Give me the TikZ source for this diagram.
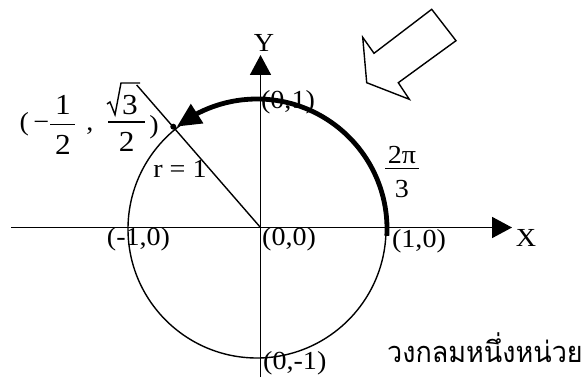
\documentclass[tikz,border=0pt]{standalone}
\usepackage{fontspec}
\setmainfont{Liberation Serif}[FakeStretch=1.08]
\newfontfamily\thaifont[Script=Thai,FakeStretch=0.93]{Loma}
\usetikzlibrary{arrows.meta,bending}
\begin{document}
\begin{tikzpicture}[x=1pt,y=-1pt,
  thinline/.style={line width=1.4pt},
  axis/.style={line width=1.8pt,-{Triangle[length=20pt,width=21pt]}},
  lbl/.style={inner sep=0pt,font=\fontsize{26}{28}\selectfont},
  frac/.style={inner sep=0pt,font=\fontsize{29}{30}\selectfont},
  ]
\useasboundingbox (0,0) rectangle (588,377);
\coordinate (O) at (260.5,227.5);
\coordinate (C) at (257,229);
\coordinate (Xs) at (11,227.5);
\coordinate (Xe) at (512,227.5);
\coordinate (Ys) at (260.5,377);
\coordinate (Ye) at (260.5,55);
\coordinate (R) at (136.7,85);
\node[circle,fill,inner sep=0pt,minimum size=6pt] (P) at (173.3,126.7) {};
% unit circle
\draw[thinline] (C) circle[radius=129pt];
% axes
\draw[axis] (Xs) -- (Xe);
\draw[axis] (Ys) -- (Ye);
% radius
\draw[thinline] (O) -- (R);
% thick arc 2pi/3
\draw[line width=4.8pt,-{Triangle[length=24pt,width=22pt,flex]}]
  ([shift={(-3:130pt)}]C) arc[start angle=-3,end angle=128,radius=130pt];
% hollow block arrow
\draw[thinline,line join=miter] (431.7,9.3) -- (456,40.7) -- (398.3,82.7) -- (409.3,99.3)
  -- (366.7,82.7) -- (362.7,37.3) -- (374,53.3) -- cycle;
% labels
\node[lbl,anchor=base] (ylab) at (264,51.7) {Y};
\node[lbl,anchor=base] (xlab) at (526,246.7) {X};
\node[lbl,anchor=base] (p01) at (288,108) {(0,1)};
\node[lbl,anchor=base] (pm10) at (138.5,245.5) {(-1,0)};
\node[lbl,anchor=base west] (p00) at (262,245.5) {(0,0)};
\node[lbl,anchor=base] (p10) at (419,247) {(1,0)};
\node[lbl,anchor=base west] (p0m1) at (263,369.6) {(0,-1)};
\node[lbl,anchor=base] (rl) at (180,177) {r = 1};
% angle 2pi/3
\node[lbl,anchor=base] (an) at (402,163) {2π};
\draw[thinline] (385,168.3) -- (419,168.3);
\node[lbl,anchor=base] (ad) at (402,197) {3};
% point label (-1/2, sqrt3/2)
\node[lbl,anchor=base] (lp) at (24.2,130) {(};
\node[lbl,anchor=base] (mn) at (41.3,130) {−};
\draw[thinline] (50,124.7) -- (75,124.7);
\node[frac,anchor=base] (n1) at (63,114.7) {1};
\node[frac,anchor=base] (d1) at (63,154.7) {2};
\node[lbl,anchor=base] (cm) at (90,130) {,};
\draw[thinline] (108.3,122) -- (145,122);
\node[frac,anchor=base] (n2) at (130,114.7) {3};
\draw[thinline,line join=miter] (107,104) -- (110,102) -- (115,114.7) -- (121,83) -- (140,83);
\node[frac,anchor=base] (d2) at (126.7,151) {2};
\node[lbl,anchor=base] (rp) at (154,133) {)};
% caption
\node[inner sep=0pt,anchor=base west,font=\thaifont\fontsize{29}{31}\selectfont] (th) at (387,362) {วงกลมหนึ่งหน่วย};
\end{tikzpicture}
\end{document}
